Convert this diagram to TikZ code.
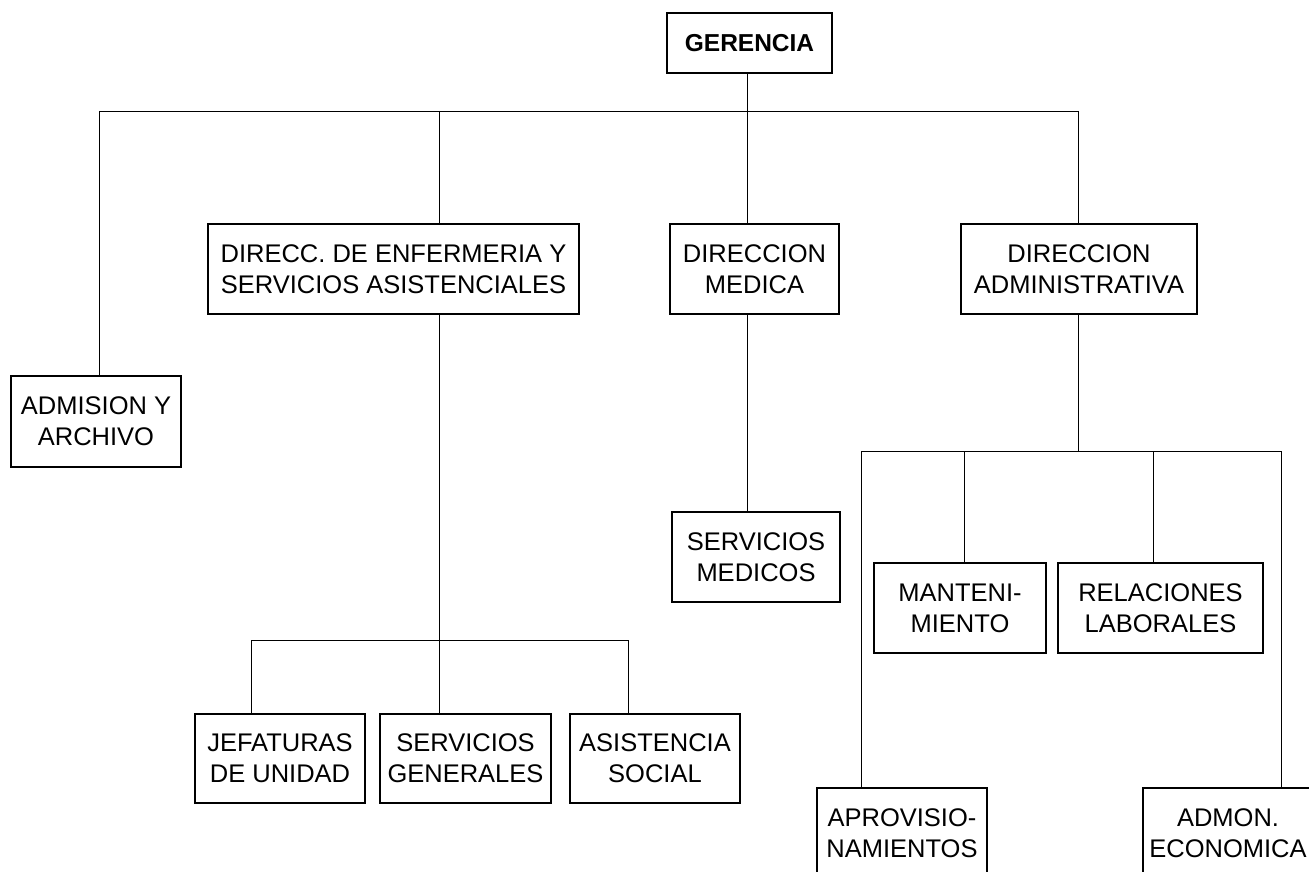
\documentclass[tikz,border=0pt]{standalone}
\usepackage{fontspec}
\setmainfont{Liberation Sans}
\begin{document}
\begin{tikzpicture}[x=1pt,y=-1pt,
  box/.style={draw, line width=1.3pt, inner sep=0pt, align=center, font=\fontsize{25.5}{31}\selectfont},
  conn/.style={line width=0.9pt}]
\useasboundingbox (0,0) rectangle (1309,872);
\clip (0,0) rectangle (1309,872);
\fill[white] (0,0) rectangle (1309,872);
% nodes
\node[box, line width=2.8pt, minimum width=165pt, minimum height=60pt, font=\fontsize{24.5}{30}\selectfont\bfseries] (ger) at (749.5,43) {GERENCIA};
\node[box, minimum width=170pt, minimum height=91pt] (adm) at (96,421.5) {ADMISION Y\\ARCHIVO};
\node[box, minimum width=371pt, minimum height=90pt] (enf) at (393.5,269) {DIRECC. DE ENFERMERIA Y\\SERVICIOS ASISTENCIALES};
\node[box, minimum width=169pt, minimum height=90pt] (med) at (754.5,269) {DIRECCION\\MEDICA};
\node[box, minimum width=236pt, minimum height=90pt] (dadm) at (1079,269) {DIRECCION\\ADMINISTRATIVA};
\node[box, minimum width=168pt, minimum height=90pt] (sm) at (756,557) {SERVICIOS\\MEDICOS};
\node[box, minimum width=172pt, minimum height=90pt] (mant) at (960,608) {MANTENI-\\MIENTO};
\node[box, minimum width=205pt, minimum height=90pt] (rel) at (1160.5,608) {RELACIONES\\LABORALES};
\node[box, minimum width=170pt, minimum height=90pt] (aprov) at (902,833) {APROVISIO-\\NAMIENTOS};
\node[box, minimum width=170pt, minimum height=90pt] (admon) at (1228,833) {ADMON.\\ECONOMICA};
\node[box, minimum width=170pt, minimum height=89pt] (jef) at (280,758.5) {JEFATURAS\\DE UNIDAD};
\node[box, minimum width=171pt, minimum height=89pt] (sg) at (465.5,758.5) {SERVICIOS\\GENERALES};
\node[box, minimum width=170pt, minimum height=89pt] (as) at (655,758.5) {ASISTENCIA\\SOCIAL};
% top bus
\coordinate (busL) at (99,111);
\coordinate (busR) at (1078,111);
\coordinate (sEnf) at (439,111);
\coordinate (sMed) at (747,111);
\draw[conn] (busL) -- (busR);
\draw[conn] (ger.south -| sMed) -- (sMed);
\draw[conn] (busL) -- (busL |- adm.north);
\draw[conn] (sEnf) -- (sEnf |- enf.north);
\draw[conn] (sMed) -- (sMed |- med.north);
\draw[conn] (busR) -- (busR |- dadm.north);
% enfermeria branch
\coordinate (eb) at (439,640);
\coordinate (ebL) at (251,640);
\coordinate (ebR) at (628,640);
\draw[conn] (enf.south -| eb) -- (eb);
\draw[conn] (ebL) -- (ebR);
\draw[conn] (ebL) -- (ebL |- jef.north);
\draw[conn] (eb) -- (eb |- sg.north);
\draw[conn] (ebR) -- (ebR |- as.north);
% medica branch
\draw[conn] (med.south -| sMed) -- (sMed |- sm.north);
% administrativa branch
\coordinate (ab) at (1078,451);
\coordinate (abL) at (861,451);
\coordinate (abR) at (1281,451);
\coordinate (am) at (964,451);
\coordinate (ar) at (1153,451);
\draw[conn] (dadm.south -| ab) -- (ab);
\draw[conn] (abL) -- (abR);
\draw[conn] (abL) -- (abL |- aprov.north);
\draw[conn] (abR) -- (abR |- admon.north);
\draw[conn] (am) -- (am |- mant.north);
\draw[conn] (ar) -- (ar |- rel.north);
\end{tikzpicture}
\end{document}
